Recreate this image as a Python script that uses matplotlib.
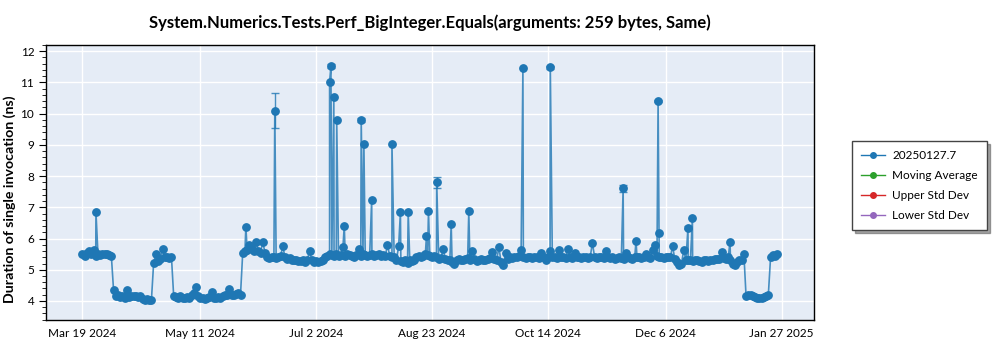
import matplotlib
matplotlib.use("Agg")
import matplotlib.pyplot as plt
import matplotlib.dates as mdates
from matplotlib.ticker import AutoMinorLocator
import numpy as np
import pandas as pd

plt.rcParams['font.family'] = ['Lato', 'DejaVu Sans']

title = "System.Numerics.Tests.Perf_BigInteger.Equals(arguments: 259 bytes, Same)"
series_name = "20250127.7"
start_day = "2024-03-19"

# one run per day from Mar 19 2024 (ns)
daily_ns = [
    5.50, 5.45, 5.55, 5.60, 5.50, 5.62, 5.45, 5.50, 5.48, 5.50, 5.52, 5.50, 5.47, 5.45,
    4.35,
    4.15, 4.18, 4.12, 4.15, 4.10, 4.35, 4.12, 4.15, 4.17, 4.15, 4.14, 4.16, 4.05, 4.03,
    4.05, 4.02, 4.03,
    5.22, 5.50, 5.28, 5.35, 5.66, 5.40, 5.42, 5.38, 5.40,
    4.15, 4.12, 4.10, 4.15, 4.10, 4.08, 4.12, 4.10, 4.18, 4.25, 4.44, 4.15, 4.10, 4.08,
    4.05, 4.10, 4.12, 4.28, 4.10, 4.08, 4.12, 4.10, 4.15, 4.18, 4.20, 4.37, 4.20, 4.18,
    4.22, 4.25, 4.20,
    5.55, 5.60, 5.62, 5.80, 5.65, 5.60, 5.88, 5.60, 5.55, 5.88, 5.55, 5.40, 5.38, 5.40,
    5.40, 5.38, 5.42, 5.45, 5.75, 5.40, 5.35, 5.38, 5.32, 5.30, 5.30, 5.28, 5.27, 5.30,
    5.25, 5.30, 5.60, 5.30, 5.25, 5.27, 5.25, 5.28, 5.30,
    5.42, 5.45, 5.50, 5.48, 5.45, 5.50, 5.45, 5.48, 5.74, 5.45, 5.50, 5.47, 5.45, 5.42,
    5.48, 5.65, 5.45, 5.50, 5.48, 5.45, 5.47, 5.50, 5.45, 5.48, 5.50, 5.45, 5.47, 5.45,
    5.78, 5.45, 5.42,
    5.40, 5.30, 5.75, 5.28, 5.25, 5.30, 5.22, 5.30, 5.27, 5.30,
    5.40, 5.45, 5.42, 5.45, 5.50, 5.47, 5.45, 5.40, 5.45, 5.40, 5.35, 5.38, 5.66, 5.35,
    5.30, 5.32, 5.25, 5.20, 5.30, 5.35, 5.32, 5.30, 5.35, 5.38, 5.30, 5.60, 5.35, 5.28,
    5.30, 5.35, 5.32, 5.30, 5.35, 5.38, 5.58, 5.35, 5.30, 5.72, 5.25, 5.15, 5.53, 5.35,
    5.40, 5.38, 5.42, 5.40, 5.45, 5.63, 5.40, 5.38, 5.42, 5.40, 5.37, 5.40, 5.42, 5.38,
    5.55, 5.42, 5.30, 5.40, 5.60, 5.42, 5.40, 5.38, 5.62, 5.40, 5.42, 5.38, 5.68, 5.40,
    5.37, 5.55, 5.40, 5.42, 5.38,
    5.40, 5.42, 5.38, 5.40, 5.86, 5.40, 5.38, 5.42, 5.40, 5.37, 5.60, 5.42, 5.38, 5.40,
    5.35, 5.38, 5.42, 5.37, 5.35, 5.55, 5.40, 5.38, 5.35, 5.40, 5.42, 5.40, 5.38, 5.40,
    5.52, 5.40, 5.38, 5.62, 5.78, 5.45, 5.40, 5.42, 5.38, 5.40, 5.42, 5.40, 5.75,
    5.35, 5.25, 5.15, 5.20, 5.62, 5.30, 5.32, 5.30, 5.28, 5.30, 5.32, 5.28, 5.25, 5.30,
    5.30, 5.28, 5.30, 5.32, 5.35, 5.33, 5.35, 5.58, 5.38, 5.35, 5.40, 5.30, 5.20, 5.15,
    5.25, 5.30, 5.30, 5.52,
    4.15, 4.20, 4.18, 4.15, 4.12, 4.10, 4.08, 4.10, 4.12, 4.15, 4.20,
    5.40, 5.48, 5.45, 5.50,
]

# extra runs in between (days after start, ns, error)
spike_day = [6.1, 73.4, 86.4, 111.0, 111.6, 112.9, 114.2, 117.6, 125.2, 126.4,
             129.9, 139.0, 142.8, 146.3, 154.5, 155.4, 159.1, 165.6, 173.5, 197.8,
             210.1, 242.8, 248.6, 258.5, 258.9, 271.9, 273.9, 290.8]
spike_ns = [6.84, 6.38, 10.10, 11.02, 11.52, 10.52, 9.79, 6.41, 9.79, 9.04,
            7.24, 9.02, 6.84, 6.84, 6.09, 6.87, 7.80, 6.45, 6.87, 11.47,
            11.48, 7.61, 5.93, 10.40, 6.17, 6.34, 6.65, 5.90]
spike_err = [0, 0, 0.56, 0, 0.06, 0, 0, 0, 0.07, 0,
             0, 0, 0, 0, 0, 0, 0.17, 0, 0, 0,
             0.05, 0.11, 0, 0.03, 0, 0.05, 0, 0]

tick_days = ["2024-03-19", "2024-05-11", "2024-07-02", "2024-08-23",
             "2024-10-14", "2024-12-06", "2025-01-27"]
legend_names = [series_name, "Moving Average", "Upper Std Dev", "Lower Std Dev"]
legend_colors = ["#1f77b4", "#2ca02c", "#d62728", "#9467bd"]

t0 = pd.Timestamp(start_day)
df = pd.DataFrame({
    "day": list(range(len(daily_ns))) + spike_day,
    "ns": daily_ns + spike_ns,
})
df = df.sort_values("day", kind="stable")
df["date"] = t0 + pd.to_timedelta(df["day"], unit="D")

fig = plt.figure(figsize=(10, 3.5), dpi=100)
ax = fig.add_axes([0.046, 0.0857, 0.768, 0.7857])
ax.set_facecolor("#E5ECF6")
ax.grid(True, color="white", linewidth=1)
ax.set_axisbelow(True)

ax.plot(df["date"], df["ns"], color="#1f77b4", linewidth=1.2, alpha=0.8, zorder=2)
ax.plot(df["date"], df["ns"], linestyle="none", marker="o", markersize=5.3,
        color="#1f77b4", zorder=3)

err = pd.DataFrame({"day": spike_day, "ns": spike_ns, "err": spike_err})
err = err[err["err"] > 0]
ax.errorbar(t0 + pd.to_timedelta(err["day"], unit="D"), err["ns"], yerr=err["err"],
            fmt="none", ecolor="#1f77b4", elinewidth=1, capsize=3, alpha=0.8, zorder=3)

ax.set_xlim(pd.Timestamp("2024-03-02 16:00"), pd.Timestamp("2025-02-10 12:00"))
ax.set_ylim(3.39, 12.2)
ax.set_yticks(range(4, 13))
ax.yaxis.set_minor_locator(AutoMinorLocator(5))
ax.set_xticks([pd.Timestamp(d) for d in tick_days])
ax.xaxis.set_major_formatter(mdates.DateFormatter("%b %-d %Y"))
ax.tick_params(axis="both", labelsize=8.5, colors="black")
ax.tick_params(axis="x", length=0, pad=6)
ax.tick_params(axis="y", which="major", length=5)
ax.tick_params(axis="y", which="minor", length=3)
for s in ax.spines.values():
    s.set_color("black")
    s.set_linewidth(1)

ax.set_title(title, fontsize=12, fontweight="bold", pad=12)
ax.set_ylabel("Duration of single invocation (ns)", fontsize=10.2, fontweight="bold")
ax.yaxis.set_label_coords(-0.039, 0.44)

handles = [ax.plot([], [], color=c, marker="o", markersize=4, linewidth=1)[0]
           for c in legend_colors]
fig.legend(handles, legend_names, loc="upper left", bbox_to_anchor=(0.846, 0.614),
           fontsize=8.5, frameon=True, fancybox=False, shadow=True, edgecolor="#444444",
           handlelength=2.0, labelspacing=0.75, borderpad=0.8, handletextpad=0.6)

fig.savefig("out.png", dpi=100)
